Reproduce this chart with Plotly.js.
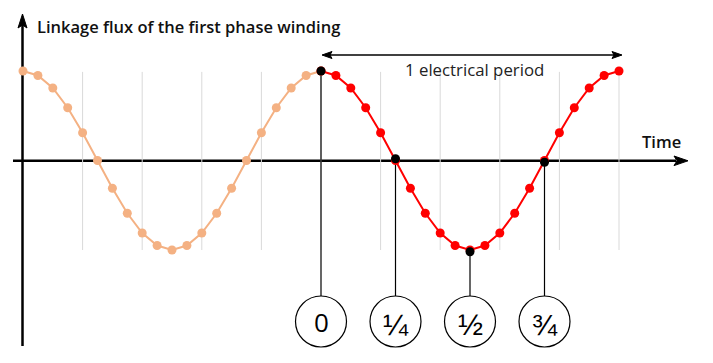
<!DOCTYPE html>
<html>
<head>
<meta charset="utf-8">
<script src="https://cdn.plot.ly/plotly-3.0.1.min.js"></script>
<style>html,body{margin:0;padding:0;background:#fff;}#chart{width:713px;height:363px;}</style>
</head>
<body>
<div id="chart"></div>
<script>
// Sample index along time (20 samples per electrical period)
const period1X = [0,1,2,3,4,5,6,7,8,9,10,11,12,13,14,15,16,17,18,19,20];
const period1Y = [1,0.95,0.81,0.59,0.31,0,-0.31,-0.59,-0.81,-0.95,-1,-0.95,-0.81,-0.59,-0.31,0,0.31,0.59,0.81,0.95,1];
const period2X = [20,21,22,23,24,25,26,27,28,29,30,31,32,33,34,35,36,37,38,39,40];
const period2Y = [1,0.95,0.81,0.59,0.31,0,-0.31,-0.59,-0.81,-0.95,-1,-0.95,-0.81,-0.59,-0.31,0,0.31,0.59,0.81,0.95,1];
const keyX = [20,25,30,35];
const keyY = [1,0.02,-1.02,-0.02];
const keyLabels = ['0','¼','½','¾'];
const gridX = [4,8,12,16,20,24,28,32,36,40];

const W = 713, H = 363;
const px = v => v / W;
const py = v => 1 - v / H;
const circleTopY = -1.514;

const traces = [
  {x: period1X, y: period1Y, mode: 'lines+markers', line: {color: '#f4b183', width: 2}, marker: {color: '#f4b183', size: 9}, hoverinfo: 'skip'},
  {x: period2X, y: period2Y, mode: 'lines+markers', line: {color: '#ff0000', width: 2}, marker: {color: '#ff0000', size: 9}, hoverinfo: 'skip'},
  {x: keyX, y: keyY, mode: 'markers', marker: {color: '#000000', size: 9}, hoverinfo: 'skip'}
];

const shapes = [];
gridX.forEach(g => shapes.push({type: 'line', xref: 'x', yref: 'y', x0: g, x1: g, y0: -1, y1: 0.99, line: {color: '#d9d9d9', width: 1}, layer: 'below'}));
// axes
shapes.push({type: 'line', xref: 'paper', yref: 'paper', x0: px(22.5), x1: px(22.5), y0: py(346), y1: py(24), line: {color: '#000', width: 2.5}, layer: 'below'});
shapes.push({type: 'line', xref: 'paper', yref: 'paper', x0: px(13), x1: px(676), y0: py(160.8), y1: py(160.8), line: {color: '#000', width: 2.5}, layer: 'below'});
// arrowheads
shapes.push({type: 'path', xref: 'paper', yref: 'paper', path: `M ${px(22.5)} ${py(14)} L ${px(27)} ${py(28)} L ${px(22.5)} ${py(25)} L ${px(18)} ${py(28)} Z`, fillcolor: '#000', line: {color: '#000', width: 1}});
shapes.push({type: 'path', xref: 'paper', yref: 'paper', path: `M ${px(688)} ${py(160.8)} L ${px(674)} ${py(156)} L ${px(677)} ${py(160.8)} L ${px(674)} ${py(165.6)} Z`, fillcolor: '#000', line: {color: '#000', width: 1}});
// period double arrow
shapes.push({type: 'line', xref: 'paper', yref: 'paper', x0: px(328), x1: px(616), y0: py(55), y1: py(55), line: {color: '#000', width: 1.3}});
shapes.push({type: 'path', xref: 'paper', yref: 'paper', path: `M ${px(322)} ${py(55)} L ${px(332)} ${py(51.5)} L ${px(330)} ${py(55)} L ${px(332)} ${py(58.5)} Z`, fillcolor: '#000', line: {color: '#000', width: 1}});
shapes.push({type: 'path', xref: 'paper', yref: 'paper', path: `M ${px(622)} ${py(55)} L ${px(612)} ${py(51.5)} L ${px(614)} ${py(55)} L ${px(612)} ${py(58.5)} Z`, fillcolor: '#000', line: {color: '#000', width: 1}});
// connectors and circles
keyX.forEach((k, i) => {
  shapes.push({type: 'line', xref: 'x', yref: 'y', x0: k, x1: k, y0: keyY[i], y1: circleTopY, line: {color: '#000', width: 1.2}, layer: 'below'});
  shapes.push({type: 'circle', xref: 'x', yref: 'paper', xsizemode: 'pixel', xanchor: k, x0: -25.5, x1: 25.5, y0: py(347), y1: py(296), line: {color: '#000', width: 1.2}, fillcolor: 'rgba(255,255,255,0)'});
});

const annotations = [
  {xref: 'paper', yref: 'paper', x: px(35), y: py(26), xanchor: 'left', yanchor: 'middle', showarrow: false, text: 'Linkage flux of the first phase winding', font: {family: 'Open Sans', size: 16.5, weight: 600, color: '#111'}},
  {xref: 'paper', yref: 'paper', x: px(683), y: py(142), xanchor: 'right', yanchor: 'middle', showarrow: false, text: 'Time', font: {family: 'Open Sans', size: 16.5, weight: 600, color: '#111'}},
  {xref: 'paper', yref: 'paper', x: px(474), y: py(69), xanchor: 'center', yanchor: 'middle', showarrow: false, text: '1 electrical period', font: {family: 'Open Sans', size: 16.8, color: '#222'}}
];
keyX.forEach((k, i) => {
  annotations.push({xref: 'x', yref: 'paper', x: k, y: py(i === 0 ? 322 : 324), xanchor: 'center', yanchor: 'middle', showarrow: false, text: keyLabels[i],
    font: {family: i === 0 ? 'Open Sans' : 'Liberation Sans', size: i === 0 ? 26 : 30, color: '#000'}});
});

const layout = {
  width: W, height: H, margin: {l: 0, r: 0, t: 0, b: 0},
  paper_bgcolor: '#fff', plot_bgcolor: '#fff', showlegend: false,
  xaxis: {range: [-23/14.9, (713-23)/14.9], visible: false, fixedrange: true},
  yaxis: {range: [(160.5-363)/89.5, 160.5/89.5], visible: false, fixedrange: true},
  shapes: shapes, annotations: annotations
};
Plotly.newPlot('chart', traces, layout, {displayModeBar: false, staticPlot: true});
</script>
</body>
</html>
